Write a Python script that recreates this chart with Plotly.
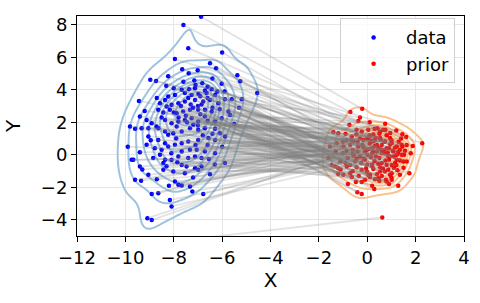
import numpy as np
import plotly.graph_objects as go

# ---- data (blue) ----
data_x = [
    -7.60, -6.87, -7.60, -7.40, -6.00, -7.95, -6.50, -6.25, -7.65, -7.01,
    -7.38, -8.97, -8.73, -8.23, -5.37, -5.25, -4.55, -9.44, -8.31, -7.15,
    -6.82, -6.02, -7.67, -7.37, -7.12, -6.71, -6.43, -7.54, -7.26, -6.98,
    -6.64, -6.29, -7.95, -8.23, -8.36, -8.57, -8.29, -8.09, -7.81, -7.54,
    -7.12, -6.78, -6.50, -6.16, -5.88, -5.60, -5.19, -8.64, -8.43, -8.16,
    -7.88, -7.61, -7.33, -6.99, -6.71, -6.43, -5.74, -5.67, -9.40, -9.12,
    -8.91, -8.71, -8.36, -8.09, -7.81, -7.54, -7.26, -6.99, -6.71, -6.29,
    -6.02, -9.81, -9.33, -9.05, -9.60, -9.05, -9.12, -9.40, -9.74, -9.67,
    -9.40, -9.05, -9.60, -9.35, -8.64, -8.36, -8.23, -8.57, -8.85, -8.36,
    -8.43, -8.43, -8.02, -7.54, -7.95, -7.81, -7.67, -7.33, -6.78, -8.64,
    -8.91, -7.67, -7.47, -7.12, -6.99, -6.85, -7.40, -7.12, -6.85, -7.67,
    -7.33, -7.05, -6.71, -6.29, -5.88, -7.95, -7.67, -7.40, -6.99, -6.57,
    -6.29, -6.09, -5.88, -8.23, -8.02, -7.67, -7.33, -6.99, -6.71, -6.29,
    -8.64, -8.36, -7.88, -7.19, -8.78, -8.50, -7.81, -8.09, -8.16, -8.09,
    -7.23, -9.09, -8.91, -7.00, -6.90, -7.20, -7.40, -6.60, -6.85, -7.10,
    -6.60, -7.50, -7.70, -6.40, -6.10, -6.60, -7.00, -7.80, -8.00, -6.20,
    -6.90, -7.30, -8.70, -8.00, -8.50, -6.40, -6.00, -6.60, -7.90, -8.10,
    -7.20, -6.50, -6.30, -8.70, -8.20, -9.30, -9.90, -9.20, -5.50, -5.30,
    -5.90, -7.60, -6.40, -7.45, -6.80, -7.10, -8.30, -7.85, -6.55, -8.95,
]
data_y = [
    -5.25, 8.51, 8.00, 6.57, 6.30, 5.90, 5.64, 5.33, 5.27, 5.21,
    5.03, 4.62, 4.55, 4.84, 4.90, 4.53, 3.80, 3.32, 4.25, 4.57,
    4.41, 4.37, 4.00, 4.04, 4.10, 3.96, 4.04, 3.80, 3.69, 3.75,
    3.80, 3.69, 3.69, 3.59, 3.38, 3.18, 2.97, 3.08, 3.18, 3.28,
    3.38, 3.28, 3.38, 3.18, 3.43, 3.43, 3.43, 2.77, 2.60, 2.77,
    2.56, 2.67, 2.77, 2.77, 2.77, 2.67, 2.67, 2.46, 2.36, 2.15,
    1.95, 1.74, 2.15, 1.95, 2.05, 2.15, 2.26, 2.05, 2.36, 2.05,
    2.26, 1.74, 1.64, 1.64, 1.60, 1.13, 0.62, 0.16, -0.31, -0.31,
    -0.72, -1.23, -1.54, -1.60, 0.92, 0.72, 0.51, 0.00, -0.20, -0.31,
    -0.51, -0.92, -1.03, -1.13, -1.64, -1.85, -1.89, -1.95, -2.42, -2.36,
    -2.42, -0.62, -0.72, -0.82, -0.92, -0.72, -0.20, -0.10, -0.20, 0.20,
    0.31, 0.31, 0.20, 0.10, -0.51, 0.62, 0.72, 0.82, 0.92, 1.03,
    0.92, 1.33, 1.13, 1.23, 1.33, 1.44, 1.64, 1.54, 1.64, 1.60,
    1.64, 1.44, 1.74, 1.85, 0.41, 0.31, -0.10, -0.31, -2.79, -3.18,
    -2.26, -3.90, -4.02, 3.00, 2.50, 2.90, 3.50, 3.50, 3.10, 4.30,
    4.20, 2.40, 3.00, 2.90, 2.80, 2.10, 1.80, 2.30, 2.60, 3.90,
    3.60, 3.10, 3.50, 4.10, 2.30, 1.30, 0.50, 0.60, 1.00, 0.10,
    -1.40, -1.20, -0.60, -1.50, -1.90, -0.90, 0.50, 2.70, 1.90, 2.90,
    3.90, 4.50, 4.70, 2.00, 1.20, 0.60, -0.70, -0.45, -0.25, 0.90,
]

# ---- prior (red) ----
prior_x = [
    0.62, -0.21, -0.70, -0.37, -0.74, 0.74, -1.40, -1.20, 1.45, 1.61,
    2.27, 1.88, 1.63, 1.45, 1.22, 1.28, 1.56, 1.52, 1.63, 1.49,
    1.35, 1.22, 1.15, 1.01, 0.80, 0.87, 0.73, 0.53, 0.94, 0.77,
    0.46, 0.32, 0.11, -0.09, -0.23, -0.47, -0.64, -0.71, -0.99, -1.20,
    -1.20, -0.85, -0.71, -0.44, -0.23, -0.02, 0.25, 0.53, 1.35, 1.74,
    1.28, 0.20, 0.29, -0.41, -0.23, 0.42, 0.66, 0.53, 1.42, 0.94,
    1.01, -0.44, -0.23, 0.04, 0.11, -0.64, -0.85, -0.57, -0.16, 0.25,
    0.53, 0.73, 0.39, 0.80, 1.08, 1.35, 1.42, 1.22, 0.94, 0.60,
    0.25, -0.02, -0.37, -0.71, -0.99, -1.26, -1.54, 0.11, 0.46, 0.80,
    1.01, 1.01, 1.28, -1.33, -1.47, 0.00, 0.20, 0.40, 0.60, 0.30,
    0.10, -0.20, -0.40, -0.10, 0.30, 0.50, 0.70, 0.90, 1.00, 0.80,
    0.50, -0.30, -0.60, -0.80, -0.50, 0.20, 0.60, 1.10, 0.40, 0.10,
    -0.10, 0.70, 0.20, -0.30, 0.90, 1.30, -1.00, -1.10, -0.90, 0.00,
    0.60, 1.10, -0.60, 0.30, 0.60, 0.00, -0.40, 0.45, 0.15, 0.85,
    0.35, -0.15, 0.55, 0.25, -0.45, 1.05, 0.75, 0.05, -0.25, 0.95,
    -0.65, 1.20, 0.40, -0.90, 1.50, 1.80, -1.30, -1.00, 0.10, 1.20,
    -0.30, 0.90, -0.80, 0.65, 0.30, -0.05, 1.00, 0.50, -0.35, 1.40,
    0.75, -1.60, 0.15, 0.45, -0.55, 0.85, -0.15, 0.35, 1.15, -0.85,
    0.05, 1.25, -0.45, 0.65, -1.10, 0.95, 0.55, -0.60, 0.20, 0.70,
]
prior_y = [
    -3.86, 2.83, 2.63, 2.09, 1.85, 1.91, 1.40, 1.33, 1.27, 1.09,
    0.72, 0.55, 0.60, 0.51, 0.51, 0.20, 0.25, 0.00, -0.41, -0.41,
    -0.35, -0.31, -0.51, -0.62, -0.62, -0.92, -1.03, -1.03, -1.23, -1.54,
    -1.50, -1.50, -1.37, -1.54, -1.68, -1.68, -1.37, -1.13, -1.23, -1.17,
    -0.82, -0.72, -0.62, -0.76, -0.92, -1.03, -0.88, -0.76, -1.23, -1.13,
    -1.91, -1.91, -2.11, -2.30, -2.42, 1.64, 1.54, 1.44, 0.62, 1.03,
    0.72, 1.54, 1.44, 1.54, 1.13, 1.13, 0.92, 0.82, 0.92, 0.82,
    1.03, 0.82, 0.51, 0.41, 0.20, 0.31, 0.00, 0.00, -0.10, 0.10,
    0.20, 0.31, 0.51, 0.62, 0.51, 0.72, 0.51, -1.23, -1.44, -1.64,
    -1.54, -1.13, 0.10, -0.72, -0.62, 0.00, 0.40, 0.20, 0.60, 0.90,
    1.20, 0.60, 0.20, -0.30, -0.40, -0.20, 0.10, 0.40, 0.90, 1.20,
    1.30, 1.00, 0.30, -0.20, -0.40, -0.70, -0.50, -0.10, 0.60, 0.70,
    0.20, 0.80, 0.10, -0.10, -0.30, 0.80, 0.10, -0.40, 1.30, -0.60,
    -1.30, -0.80, -1.00, 1.60, 0.30, 1.00, 0.80, 0.45, -0.15, -0.05,
    -0.10, 0.45, 0.95, 1.25, -0.25, 0.25, -0.35, 0.35, -0.50, 0.65,
    0.90, -0.65, -1.20, -0.50, -0.80, 0.10, 0.20, 0.80, 2.00, 1.50,
    2.30, -1.80, -1.80, 0.15, 0.55, -0.85, -1.40, -1.60, -1.30, 1.00,
    1.55, -0.20, 0.85, -0.55, -0.05, 0.15, -0.25, 1.05, 0.45, 0.25,
    -1.25, -0.95, 1.25, -0.85, -0.90, 1.35, 0.35, 0.05, -0.60, 0.30,
]

FONT = "DejaVu Sans"
BLUE_LINE = "#9ec3e0"
ORANGE_LINE = "#fcc28e"


def kde_mass_grid(xs, ys, n_grid=150):
    """Gaussian KDE (Scott's rule); returns grid + 'probability mass below' field."""
    pts = np.vstack([np.asarray(xs, float), np.asarray(ys, float)])
    n = pts.shape[1]
    factor = n ** (-1.0 / 6.0)
    cov = np.cov(pts) * factor ** 2
    inv = np.linalg.inv(cov)
    bw = np.sqrt(np.diag(cov))
    gx = np.linspace(pts[0].min() - 3 * bw[0], pts[0].max() + 3 * bw[0], n_grid)
    gy = np.linspace(pts[1].min() - 3 * bw[1], pts[1].max() + 3 * bw[1], n_grid)
    GX, GY = np.meshgrid(gx, gy)
    dens = np.zeros_like(GX)
    for i in range(n):
        dx = GX - pts[0, i]
        dy = GY - pts[1, i]
        q = inv[0, 0] * dx * dx + 2 * inv[0, 1] * dx * dy + inv[1, 1] * dy * dy
        dens += np.exp(-0.5 * q)
    flat = dens.ravel()
    order = np.argsort(flat)
    cum = np.cumsum(flat[order]) / flat.sum()
    mass = np.empty_like(flat)
    mass[order] = cum
    return gx, gy, mass.reshape(dens.shape)


fig = go.Figure()

levels = dict(start=0.05, end=0.9, size=0.95 / 9, coloring="lines")
for xs, ys, col in [(data_x[1:], data_y[1:], BLUE_LINE), (prior_x, prior_y, ORANGE_LINE)]:
    gx, gy, zm = kde_mass_grid(xs, ys)
    fig.add_trace(go.Contour(
        x=gx, y=gy, z=zm, contours=levels,
        colorscale=[[0, col], [1, col]], showscale=False,
        line=dict(width=2, smoothing=1.0), hoverinfo="skip", showlegend=False,
    ))

fig.add_trace(go.Scatter(x=data_x, y=data_y, mode="markers", name="data",
                         marker=dict(color="blue", size=4.5, line=dict(width=0))))
fig.add_trace(go.Scatter(x=prior_x, y=prior_y, mode="markers", name="prior",
                         marker=dict(color="red", size=4.5, line=dict(width=0))))

for px, py, dx, dy in zip(prior_x, prior_y, data_x, data_y):
    fig.add_trace(go.Scatter(x=[px, dx], y=[py, dy], mode="lines",
                             line=dict(color="rgba(128,128,128,0.22)", width=1.8),
                             hoverinfo="skip", showlegend=False))

axis_common = dict(
    showline=True, linecolor="black", linewidth=1, mirror=True,
    ticks="outside", ticklen=5, tickwidth=1, tickcolor="black",
    showgrid=True, gridcolor="#e6e6e6", gridwidth=1, zeroline=False,
    tickfont=dict(family=FONT, size=18, color="black"), automargin=False,
)

fig.update_layout(
    width=480, height=303,
    margin=dict(l=77, r=16, t=16, b=67),
    paper_bgcolor="white", plot_bgcolor="white",
    font=dict(family=FONT, color="black"),
    xaxis=dict(range=[-12, 4], tickmode="array", tickvals=list(range(-12, 5, 2)),
               title=dict(text="X", font=dict(family=FONT, size=20), standoff=6),
               **axis_common),
    yaxis=dict(range=[-5, 8.55], tickmode="array", tickvals=list(range(-4, 9, 2)),
               title=dict(text="Y", font=dict(family=FONT, size=20), standoff=14),
               **axis_common),
    legend=dict(x=0.977, y=0.99, xanchor="right", yanchor="top",
                bgcolor="rgba(255,255,255,0.8)", bordercolor="#d0d0d0", borderwidth=1,
                font=dict(family=FONT, size=18, color="black"), itemsizing="trace",
                itemwidth=55, tracegroupgap=4),
    showlegend=True,
)

fig.write_html("out.html", config={"displayModeBar": False},
               post_script="document.body.style.margin='0px';document.body.style.overflow='hidden';")
